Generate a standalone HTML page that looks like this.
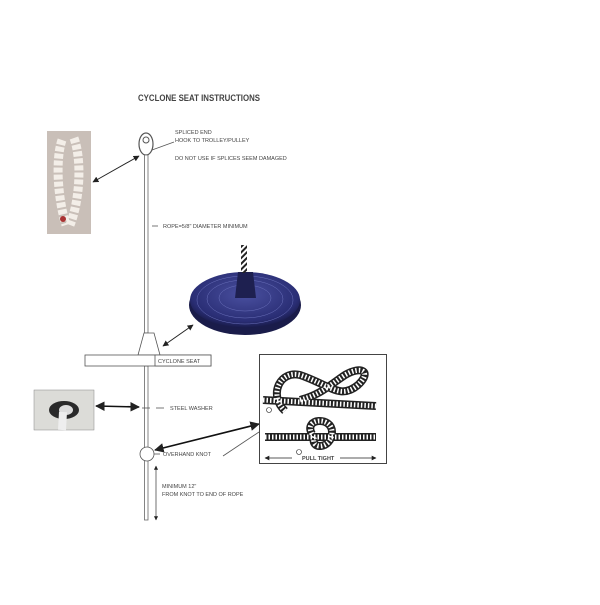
<!DOCTYPE html>
<html><head><meta charset="utf-8"><style>
body{margin:0;background:#fff;width:600px;height:600px;overflow:hidden}
svg text{font-family:"Liberation Sans",sans-serif;fill:#444}
</style></head><body>
<svg width="600" height="600" viewBox="0 0 600 600" xmlns="http://www.w3.org/2000/svg">
<defs>
<marker id="a" viewBox="0 0 10 10" refX="9" refY="5" markerWidth="6" markerHeight="6" orient="auto-start-reverse"><path d="M0,0L10,5L0,10z" fill="#222"/></marker>
<pattern id="rp" width="4" height="4" patternUnits="userSpaceOnUse" patternTransform="rotate(45)"><rect width="2" height="4" fill="#222"/></pattern>
<radialGradient id="dg" cx="50%" cy="40%" r="60%"><stop offset="0" stop-color="#4a50a0"/><stop offset="0.8" stop-color="#2a2e75"/><stop offset="1" stop-color="#181a48"/></radialGradient>
</defs>
<text x="138" y="101" font-size="9" font-weight="bold" fill="#333" textLength="122" lengthAdjust="spacingAndGlyphs">CYCLONE SEAT INSTRUCTIONS</text>
<!-- splice photo -->
<rect x="47" y="131" width="44" height="103" fill="#c9bfb8"/>
<path d="M62,140 C55,160 58,200 66,225 M74,138 C82,160 80,200 70,225" stroke="#f3eee8" stroke-width="9" fill="none" stroke-dasharray="5,2"/>
<circle cx="63" cy="219" r="3" fill="#a33"/>
<!-- eye & rope -->
<ellipse cx="146" cy="144" rx="7" ry="11" fill="#fff" stroke="#555" stroke-width="1.2"/>
<circle cx="146" cy="140" r="3" fill="#fff" stroke="#555"/>
<rect x="144.5" y="155" width="3.5" height="178" fill="#fff" stroke="#666" stroke-width="0.8"/>
<rect x="144.5" y="366" width="3.5" height="82" fill="#fff" stroke="#666" stroke-width="0.8"/>
<rect x="144.5" y="460" width="3.5" height="60" fill="#fff" stroke="#666" stroke-width="0.8"/>
<line x1="93" y1="182" x2="139" y2="156" stroke="#222" stroke-width="1" marker-start="url(#a)" marker-end="url(#a)"/>
<line x1="152" y1="150" x2="174" y2="142" stroke="#555" stroke-width="0.8"/>
<text x="175" y="134" font-size="5.5">SPLICED END</text>
<text x="175" y="142" font-size="5.5">HOOK TO TROLLEY/PULLEY</text>
<text x="175" y="160" font-size="5.5">DO NOT USE IF SPLICES SEEM DAMAGED</text>
<line x1="152" y1="226" x2="158" y2="226" stroke="#555" stroke-width="0.8"/>
<text x="163" y="228" font-size="5.5">ROPE=5/8" DIAMETER MINIMUM</text>
<!-- disc -->
<ellipse cx="245" cy="305" rx="56" ry="30" fill="#1a1c4a"/>
<ellipse cx="245" cy="300" rx="55" ry="28" fill="url(#dg)"/>
<ellipse cx="245" cy="300" rx="48" ry="24" fill="none" stroke="#6a70bb" stroke-width="0.5"/>
<ellipse cx="245" cy="299" rx="38" ry="19" fill="none" stroke="#6a70bb" stroke-width="0.5"/>
<ellipse cx="245" cy="298" rx="26" ry="13" fill="none" stroke="#6a70bb" stroke-width="0.5"/>
<path d="M235,298 L238,272 L253,272 L256,298 Z" fill="#1e2050"/>
<rect x="241" y="245" width="6" height="28" fill="url(#rp)"/>
<line x1="163" y1="346" x2="193" y2="325" stroke="#222" stroke-width="1" marker-start="url(#a)" marker-end="url(#a)"/>
<!-- seat -->
<path d="M144,333 L154,333 L160,355 L138,355 Z" fill="#fff" stroke="#555" stroke-width="0.8"/>
<rect x="85" y="355" width="126" height="11" fill="#fff" stroke="#555" stroke-width="0.8"/>
<rect x="155" y="355" width="56" height="11" fill="#fff" stroke="#555" stroke-width="0.8"/>
<text x="158" y="363" font-size="5.5">CYCLONE SEAT</text>
<!-- washer photo -->
<rect x="34" y="390" width="60" height="40" fill="#dcdcd8" stroke="#888" stroke-width="0.5"/>
<ellipse cx="64" cy="410" rx="15" ry="9" fill="#2a2a2a"/>
<ellipse cx="66" cy="410" rx="7" ry="5" fill="#ddd"/>
<path d="M63,412 L62,430" stroke="#eee" stroke-width="8"/>
<line x1="96" y1="406" x2="139" y2="407" stroke="#111" stroke-width="1.6" marker-start="url(#a)" marker-end="url(#a)"/>
<line x1="142" y1="408" x2="150" y2="408" stroke="#555" stroke-width="0.8"/>
<line x1="156" y1="408" x2="164" y2="408" stroke="#555" stroke-width="0.8"/>
<text x="170" y="410" font-size="5.5">STEEL WASHER</text>
<!-- knot -->
<circle cx="147" cy="454" r="7" fill="#fff" stroke="#555" stroke-width="0.8"/>
<line x1="154" y1="454" x2="160" y2="454" stroke="#555" stroke-width="0.8"/>
<text x="163" y="456" font-size="5.5">OVERHAND KNOT</text>
<line x1="155" y1="450" x2="259" y2="424" stroke="#111" stroke-width="1.6" marker-start="url(#a)" marker-end="url(#a)"/>
<line x1="223" y1="456" x2="259" y2="432" stroke="#555" stroke-width="0.8"/>
<line x1="156" y1="466" x2="156" y2="520" stroke="#333" stroke-width="0.7" marker-start="url(#a)" marker-end="url(#a)"/>
<text x="162" y="488" font-size="5.5">MINIMUM 12"</text>
<text x="162" y="496" font-size="5.5">FROM KNOT TO END OF ROPE</text>
<!-- knot box -->
<rect x="259.5" y="354.5" width="127" height="109" fill="#fff" stroke="#444" stroke-width="1"/>
<g fill="none" stroke="#222" stroke-width="8">
<path d="M263,400 L376,406"/>
<path d="M285,411 C268,395 280,370 300,375 C330,385 340,400 358,385 C372,372 362,365 345,375 C330,385 320,395 300,400"/>
<path d="M265,437 L376,437"/>
<path d="M312,434 C303,418 332,416 332,432 C332,450 308,450 315,436"/>
</g>
<g fill="none" stroke="#fff" stroke-width="5" stroke-dasharray="1.5,2">
<path d="M263,400 L376,406"/>
<path d="M285,411 C268,395 280,370 300,375 C330,385 340,400 358,385 C372,372 362,365 345,375 C330,385 320,395 300,400"/>
<path d="M265,437 L376,437"/>
<path d="M312,434 C303,418 332,416 332,432 C332,450 308,450 315,436"/>
</g>
<circle cx="269" cy="410" r="2.5" fill="#fff" stroke="#222" stroke-width="0.6"/>
<circle cx="299" cy="452" r="2.5" fill="#fff" stroke="#222" stroke-width="0.6"/>
<line x1="265" y1="458" x2="292" y2="458" stroke="#222" stroke-width="0.8" marker-start="url(#a)"/>
<line x1="340" y1="458" x2="376" y2="458" stroke="#222" stroke-width="0.8" marker-end="url(#a)"/>
<text x="302" y="460" font-size="5.5" font-weight="bold" fill="#222">PULL TIGHT</text>
</svg>
</body></html>
